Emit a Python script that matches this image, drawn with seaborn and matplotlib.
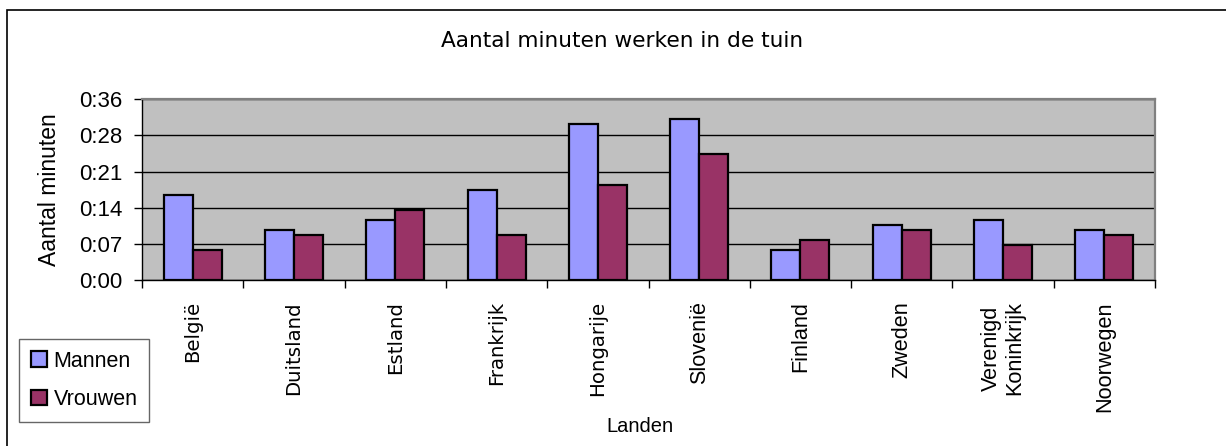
import matplotlib
matplotlib.use("Agg")
import matplotlib.pyplot as plt
import matplotlib.patches as mpatches
import pandas as pd
import seaborn as sns

# Data (minutes per day)
landen = ['België', 'Duitsland', 'Estland', 'Frankrijk', 'Hongarije',
          'Slovenië', 'Finland', 'Zweden', 'Verenigd\nKoninkrijk', 'Noorwegen']
mannen = [17, 10, 12, 18, 31, 32, 6, 11, 12, 10]
vrouwen = [6, 9, 14, 9, 19, 25, 8, 10, 7, 9]
series = ['Mannen', 'Vrouwen']
kleuren = ['#9999FF', '#993366']
y_ticks = [0, 7.2, 14.4, 21.6, 28.8, 36]

df = pd.DataFrame({
    'land': landen * 2,
    'minuten': mannen + vrouwen,
    'geslacht': ['Mannen'] * len(landen) + ['Vrouwen'] * len(landen),
})

sns.set_style('white')
plt.rcParams['font.family'] = ['Liberation Sans', 'DejaVu Sans']
plt.rcParams['text.color'] = 'black'
plt.rcParams['axes.labelcolor'] = 'black'
plt.rcParams['xtick.color'] = 'black'
plt.rcParams['ytick.color'] = 'black'

fig = plt.figure(figsize=(12.26, 4.46), dpi=100)
ax = fig.add_axes([142 / 1226, 1 - 280.3 / 446, 1013 / 1226, 181.3 / 446])

sns.barplot(data=df, x='land', y='minuten', hue='geslacht', order=landen,
            hue_order=series, palette=kleuren, width=0.573, edgecolor='black',
            linewidth=1.6, saturation=1, ax=ax, legend=False)

ax.set_facecolor('#C0C0C0')
ax.set_axisbelow(True)
ax.set_xlim(-0.5, len(landen) - 0.5)
ax.set_ylim(0, 36)
ax.set_yticks(y_ticks)
ax.set_yticklabels(['0:%02d' % int(t) for t in y_ticks], fontsize=16)
ax.yaxis.grid(True, color='black', linewidth=1)
ax.xaxis.grid(False)

# category labels, boundary ticks like Excel
ax.set_xticks(range(len(landen)))
ax.set_xticklabels(landen, rotation=90, va='top', ha='center',
                   multialignment='center')
for i, lbl in enumerate(ax.get_xticklabels()):
    if i < 5:
        lbl.set_fontfamily('DejaVu Sans')
        lbl.set_fontsize(14.2)
    else:
        lbl.set_fontfamily('Liberation Sans')
        lbl.set_fontsize(15.6)
ax.tick_params(axis='x', which='major', length=0, pad=15)
ax.set_xticks([i - 0.5 for i in range(len(landen) + 1)], minor=True)
ax.tick_params(axis='x', which='minor', length=6, width=1, color='black',
               direction='out', bottom=True)
ax.tick_params(axis='y', length=6, width=1, color='black', direction='out',
               left=True, pad=8)

for side in ['left', 'bottom']:
    ax.spines[side].set_color('black')
    ax.spines[side].set_linewidth(1)
for side in ['top', 'right']:
    ax.spines[side].set_visible(True)
    ax.spines[side].set_color('#808080')
    ax.spines[side].set_linewidth(1.6)

ax.set_ylabel('Aantal minuten', fontsize=16.5)
ax.yaxis.set_label_coords((61 - 142) / 1013, 0.5)
ax.set_xlabel('Landen', fontsize=14.5, va='center')
ax.xaxis.set_label_coords((640 - 142) / 1013, -(427 - 280.3) / 181.3)

fig.text(622.5 / 1226, 1 - 41 / 446, 'Aantal minuten werken in de tuin',
         ha='center', va='center', fontsize=15.6, family='DejaVu Sans',
         color='black')

handles = [mpatches.Patch(facecolor=c, edgecolor='black', linewidth=1.6, label=s)
           for s, c in zip(series, kleuren)]
leg = fig.legend(handles=handles, loc='upper left',
                 bbox_to_anchor=(19 / 1226, 1 - 339 / 446), fontsize=15.5,
                 frameon=True, fancybox=False, handlelength=0.75,
                 handleheight=0.75, handletextpad=0.3, labelspacing=0.8,
                 borderpad=0.55, borderaxespad=0)
leg.get_frame().set_edgecolor('#404040')
leg.get_frame().set_linewidth(1)

# chart border (right and bottom fall outside the picture)
fig.add_artist(mpatches.Rectangle((7 / 1226, -0.2), 1.2, 0.2 + 1 - 10 / 446,
                                  transform=fig.transFigure, fill=False,
                                  edgecolor='black', linewidth=1.2,
                                  clip_on=False))

fig.savefig('out.png', dpi=100)
